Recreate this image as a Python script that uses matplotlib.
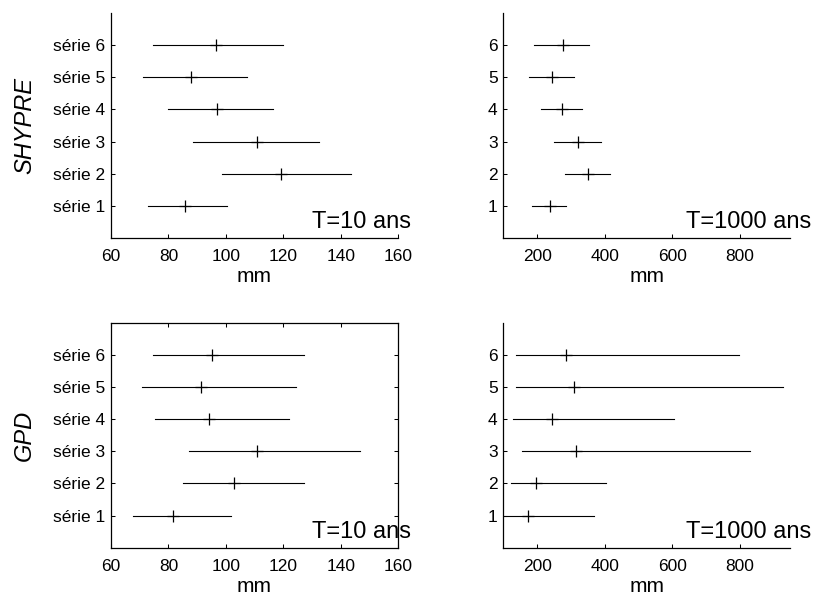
import matplotlib
matplotlib.use("Agg")
import matplotlib.pyplot as plt

plt.rcParams['font.family'] = ['Liberation Sans', 'DejaVu Sans']

# data: lower bound, estimate, upper bound for each series (series 1..6)
series = [1, 2, 3, 4, 5, 6]
labels_left = ['série 1', 'série 2', 'série 3', 'série 4', 'série 5', 'série 6']
labels_right = ['1', '2', '3', '4', '5', '6']

shypre10_low = [73.0, 98.6, 88.7, 80.0, 71.3, 74.7]
shypre10_mid = [85.9, 119.2, 110.9, 96.8, 87.9, 96.6]
shypre10_high = [100.5, 143.6, 132.6, 116.3, 107.3, 119.8]

shypre1000_low = [185, 282, 249, 212, 177, 192]
shypre1000_mid = [238, 351, 321, 274, 244, 276]
shypre1000_high = [285, 416, 390, 333, 308, 355]

gpd10_low = [67.8, 85.1, 87.0, 75.3, 70.7, 74.5]
gpd10_mid = [81.7, 102.8, 110.7, 94.2, 91.4, 95.3]
gpd10_high = [101.7, 127.2, 146.7, 122.0, 124.3, 127.2]

gpd1000_low = [102, 122, 156, 128, 138, 138]
gpd1000_mid = [172, 196, 316, 245, 309, 285]
gpd1000_high = [370, 403, 831, 605, 928, 798]

fig = plt.figure(figsize=(8.14, 5.92), dpi=100)

W, H = 0.3526, 0.380
ax1 = fig.add_axes([0.1364, 0.598, W, H])
ax2 = fig.add_axes([0.6183, 0.598, W, H])
ax3 = fig.add_axes([0.1364, 0.0748, W, H])
ax4 = fig.add_axes([0.6183, 0.0748, W, H])


def panel(ax, low, mid, high, xlim, xticks, ylabels, period, tx, box):
    for y, lo, m, hi in zip(series, low, mid, high):
        ax.plot([lo, hi], [y, y], color='black', lw=0.8)
        ax.plot(m, y, marker='+', color='black', ms=8, mew=0.9)
    ax.set_xlim(*xlim)
    ax.set_ylim(0, 7)
    ax.set_xticks(xticks)
    ax.set_yticks(series)
    ax.set_yticklabels(ylabels)
    ax.tick_params(direction='in', length=3, width=0.75, labelsize=12.5,
                   pad=4, top=box, right=box)
    ax.tick_params(axis='x', pad=8)
    for side in ['left', 'bottom', 'top', 'right']:
        ax.spines[side].set_linewidth(0.9)
    ax.spines['top'].set_visible(box)
    ax.spines['right'].set_visible(box)
    ax.set_xlabel('mm', fontsize=15, labelpad=2)
    ax.text(tx, 0.3, period, fontsize=17, ha='left', va='baseline',
            clip_on=False)


panel(ax1, shypre10_low, shypre10_mid, shypre10_high, (60, 160),
      [60, 80, 100, 120, 140, 160], labels_left, 'T=10 ans', 130, False)
panel(ax2, shypre1000_low, shypre1000_mid, shypre1000_high, (100, 950),
      [200, 400, 600, 800], labels_right, 'T=1000 ans', 640, False)
panel(ax3, gpd10_low, gpd10_mid, gpd10_high, (60, 160),
      [60, 80, 100, 120, 140, 160], labels_left, 'T=10 ans', 130, True)
panel(ax4, gpd1000_low, gpd1000_mid, gpd1000_high, (100, 950),
      [200, 400, 600, 800], labels_right, 'T=1000 ans', 640, False)

ax1.set_ylabel('SHYPRE', fontsize=17, style='italic')
ax3.set_ylabel('GPD', fontsize=17, style='italic')
ax1.yaxis.set_label_coords(-0.262, 0.5)
ax3.yaxis.set_label_coords(-0.262, 0.5)

fig.savefig('out.png', dpi=100)
